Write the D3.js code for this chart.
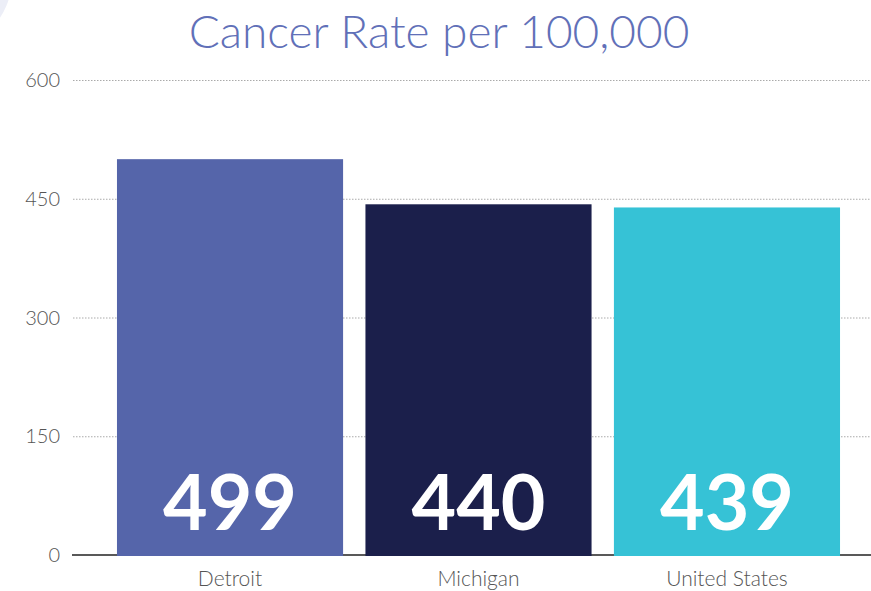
<!DOCTYPE html>
<html>
<head>
<meta charset="utf-8">
<script src="https://cdn.jsdelivr.net/npm/d3@7"></script>
<style>
  html, body { margin: 0; padding: 0; background: #fff; }
  svg { display: block; }
</style>
</head>
<body>
<svg id="chart" width="871" height="591"></svg>
<script>
const categories = ["Detroit", "Michigan", "United States"];
const values = [500, 443, 439];
const valueLabels = ["499", "440", "439"];
const colors = ["#5565AA", "#1B1F4B", "#36C2D6"];
const yTicks = [0, 150, 300, 450, 600];
const title = "Cancer Rate per 100,000";

const W = 871, H = 591;
const svg = d3.select("#chart");
const font = "Lato, 'Open Sans', sans-serif";

// decorative faint arc top-left
svg.append("circle").attr("cx", -60).attr("cy", -22).attr("r", 72)
  .attr("fill", "#eceef7");

const y = d3.scaleLinear().domain([0, 600]).range([555, 80]);
const x = d3.scaleBand().domain(categories).range([72, 885])
  .paddingInner(0.09).paddingOuter(0.181);

// gridlines
svg.append("g").selectAll("line").data(yTicks.filter(d => d > 0)).join("line")
  .attr("x1", 73).attr("x2", W)
  .attr("y1", d => y(d) + 0.5).attr("y2", d => y(d) + 0.5)
  .attr("stroke", "#aaa").attr("stroke-width", 1)
  .attr("stroke-dasharray", "1.5,1.5");

// y tick labels
svg.append("g").selectAll("text").data(yTicks).join("text")
  .attr("x", 60).attr("y", d => y(d))
  .attr("dy", "0.36em")
  .attr("text-anchor", "end")
  .attr("font-family", font).attr("font-weight", 300)
  .attr("font-size", 20).attr("fill", "#555")
  .text(d => d);

// baseline
svg.append("line").attr("x1", 72).attr("x2", W)
  .attr("y1", y(0)).attr("y2", y(0))
  .attr("stroke", "#222").attr("stroke-width", 1.5);

// bars
svg.append("g").selectAll("rect").data(categories).join("rect")
  .attr("x", d => x(d)).attr("width", x.bandwidth())
  .attr("y", (d, i) => y(values[i]))
  .attr("height", (d, i) => y(0) - y(values[i]) + 1)
  .attr("fill", (d, i) => colors[i]);

// value labels
svg.append("g").selectAll("text").data(categories).join("text")
  .attr("x", d => x(d) + x.bandwidth() / 2)
  .attr("y", 530)
  .attr("text-anchor", "middle")
  .attr("font-family", font).attr("font-weight", 700)
  .attr("font-size", 77).attr("fill", "#fff")
  .text((d, i) => valueLabels[i]);

// category labels
svg.append("g").selectAll("text").data(categories).join("text")
  .attr("x", d => x(d) + x.bandwidth() / 2)
  .attr("y", 586)
  .attr("text-anchor", "middle")
  .attr("font-family", font).attr("font-weight", 300)
  .attr("font-size", 21).attr("fill", "#555")
  .text(d => d);

// title
svg.append("text")
  .attr("x", 439).attr("y", 48)
  .attr("text-anchor", "middle")
  .attr("font-family", font).attr("font-weight", 300)
  .attr("font-size", 46).attr("fill", "#6170B8")
  .text(title);
</script>
</body>
</html>
